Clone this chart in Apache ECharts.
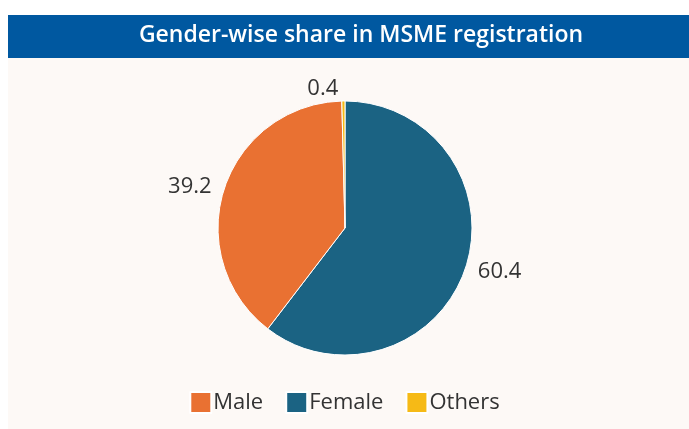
<!DOCTYPE html>
<html>
<head>
<meta charset="utf-8">
<script src="https://cdn.jsdelivr.net/npm/echarts@6/dist/echarts.min.js"></script>
<style>
  html, body { margin: 0; padding: 0; background: #ffffff; }
  #chart { width: 689px; height: 429px; }
</style>
</head>
<body>
<div id="chart"></div>
<script>
// data
const categories = ['Female', 'Male', 'Others'];
const shares = [60.4, 39.2, 0.4];
const legendOrder = ['Male', 'Female', 'Others'];
const colors = { Female: '#1B6383', Male: '#E97132', Others: '#F6BA16' };

const myChart = echarts.init(document.getElementById('chart'));

const option = {
  backgroundColor: '#ffffff',
  animation: false,
  graphic: [
    { type: 'rect', left: 8, top: 58, shape: { width: 681, height: 371 }, style: { fill: '#FDF9F6' }, z: -10 },
    { type: 'rect', left: 8, top: 15, shape: { width: 681, height: 43 }, style: { fill: '#0058A0' }, z: -10 }
  ],
  title: {
    text: 'Gender-wise share in MSME registration',
    left: 356,
    top: 19,
    textAlign: 'center',
    textStyle: { color: '#ffffff', fontSize: 23, fontWeight: 600, fontFamily: 'Open Sans' }
  },
  legend: {
    data: legendOrder,
    top: 386,
    left: 'center',
    itemWidth: 21,
    itemHeight: 21,
    itemGap: 22,
    icon: 'rect',
    textStyle: { color: '#333333', fontSize: 22, fontFamily: 'Open Sans', padding: [0, 0, 0, -3] }
  },
  series: [
    {
      type: 'pie',
      center: [345, 228],
      radius: [0, 127],
      startAngle: 90,
      clockwise: true,
      data: categories.map((c, i) => ({
        name: c,
        value: shares[i],
        itemStyle: { color: colors[c] },
        labelLine: { length: c === 'Others' ? 12 : 8 }
      })),
      itemStyle: { borderColor: '#ffffff', borderWidth: 1 },
      label: {
        show: true,
        position: 'outside',
        formatter: p => p.value.toFixed(1),
        color: '#333333',
        fontSize: 22,
        fontFamily: 'Open Sans'
      },
      labelLine: { show: false, length: 8, length2: 0 },
      emphasis: { disabled: true }
    }
  ]
};

myChart.setOption(option);
</script>
</body>
</html>
